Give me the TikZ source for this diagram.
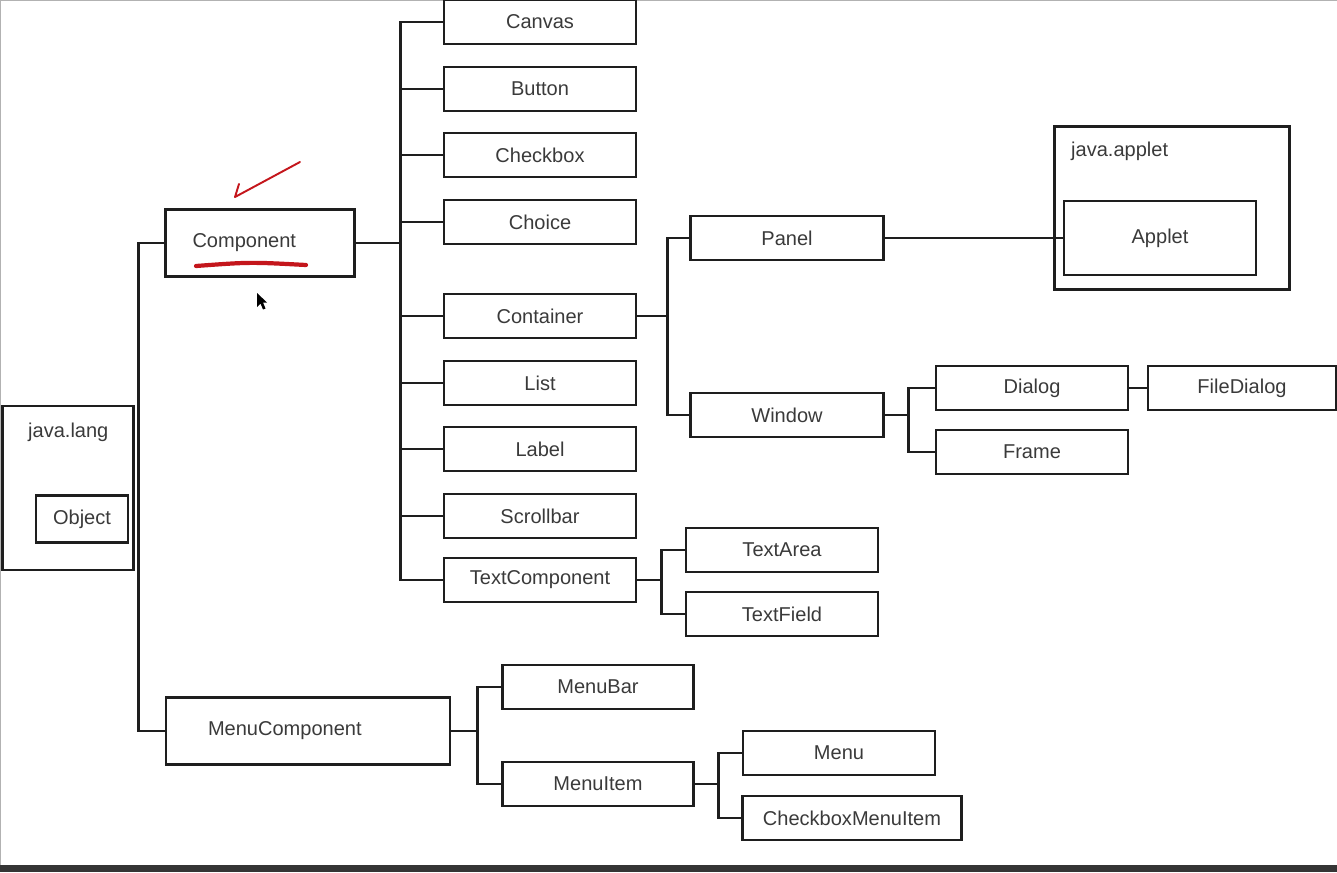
\documentclass[tikz,border=0pt]{standalone}
\usepackage{fontspec}
\setmainfont{Liberation Sans}
\usetikzlibrary{positioning}

\definecolor{inkline}{HTML}{1E1E1E}
\definecolor{inktext}{HTML}{3A3A3A}
\definecolor{penred}{HTML}{C4161C}

\begin{document}
\begin{tikzpicture}[
    x=0.02cm, y=-0.02cm,
    every node/.style={font=\fontsize{11.4}{13.7}\selectfont, text=inktext},
    box/.style={rectangle, draw=inkline, line width=1.6pt, inner sep=0pt, minimum width=3.84cm, minimum height=0.88cm, align=center},
    wide/.style={box, minimum width=0pt, inner xsep=#1, align=left},
    pkg/.style={rectangle, draw=inkline, line width=1.6pt, inner sep=0pt},
    link/.style={draw=inkline, line width=1.6pt}
]
\useasboundingbox (0,0) rectangle (1337,872);
% screen edges
\draw[gray!60, line width=0.6pt] (0,0.5) -- (1337,0.5);
\draw[gray!60, line width=0.6pt] (0.5,0) -- (0.5,865);
\fill[inkline!90] (0,865) rectangle (1337,872);

% packages
\node[pkg, minimum width=2.62cm, minimum height=3.28cm] (javalang) at (68,488) {};
\node[anchor=west] (langname) at (22,432) {java.lang};
\node[box, minimum width=1.84cm, minimum height=0.94cm] (object) at (82,519) {Object};

\node[pkg, minimum width=4.70cm, minimum height=3.26cm] (javaapplet) at (1172,208) {};
\node[anchor=west] (appletname) at (1065,151) {java.applet};
\node[box, minimum height=1.48cm] (applet) at (1160,238) {Applet};

% component branch
\node[wide=0.54cm, text width=2.70cm, minimum height=1.34cm] (comp) at (260,243) {\raisebox{-2pt}{Component}};
\node[box] (canvas) at (540,22) {Canvas};
\node[box] (button) at (540,89) {Button};
\node[box] (checkbox) at (540,155) {Checkbox};
\node[box] (choice) at (540,222) {Choice};
\node[box] (container) at (540,316) {Container};
\node[box] (list) at (540,383) {List};
\node[box] (label) at (540,449) {Label};
\node[box] (scrollbar) at (540,516) {Scrollbar};
\node[box] (textcomp) at (540,580) {TextComponent};

\node[box, minimum width=3.86cm] (panel) at (787,238) {Panel};
\node[box, minimum width=3.86cm] (window) at (787,415) {Window};
\node[box] (dialog) at (1032,388) {Dialog};
\node[box] (frame) at (1032,452) {Frame};
\node[box, minimum width=3.76cm] (filedialog) at (1242,388) {FileDialog};

\node[box] (textarea) at (782,550) {TextArea};
\node[box] (textfield) at (782,614) {TextField};

% menu branch
\node[wide=0.84cm, text width=4.00cm, minimum height=1.34cm] (menucomp) at (308,731) {MenuComponent};
\node[box, minimum width=3.82cm] (menubar) at (598,687) {MenuBar};
\node[box, minimum width=3.82cm] (menuitem) at (598,784) {MenuItem};
\node[box] (menu) at (839,753) {Menu};
\node[box, minimum width=4.38cm] (cbmenuitem) at (852,818) {CheckboxMenuItem};

% connectors
\draw[link] (comp.west) -- ++(-26,0) |- (menucomp.west);
\foreach \n in {canvas,button,checkbox,choice,container,list,label,scrollbar,textcomp}
    \draw[link] (comp.east) -- ++(45,0) |- (\n.west);
\foreach \n in {panel,window}
    \draw[link] (container.east) -- ++(30,0) |- (\n.west);
\draw[link] (panel.east) -- (applet.west);
\foreach \n in {dialog,frame}
    \draw[link] (window.east) -- ++(24,0) |- (\n.west);
\draw[link] (dialog.east) -- (filedialog.west);
\foreach \n in {textarea,textfield}
    \draw[link] (textcomp.east) -- ++(24,0) |- (\n.west);
\foreach \n in {menubar,menuitem}
    \draw[link] (menucomp.east) -- ++(26,0) |- (\n.west);
\foreach \n in {menu,cbmenuitem}
    \draw[link] (menuitem.east) -- ++(24,0) |- (\n.west);

% pen marks
\draw[penred, line width=1.1pt, line cap=round, line join=round] (300,162) -- (235,197) -- (239,184);
\draw[penred, line width=2.4pt, line cap=round] (196,266) .. controls (250,262) .. (306,265);
% pointer
\fill[black] (257,293) -- (257,307) -- (260.5,303.5) -- (263,309.5) -- (265.5,308.5) -- (263,302.5) -- (267,302.5) -- cycle;
\end{tikzpicture}
\end{document}
